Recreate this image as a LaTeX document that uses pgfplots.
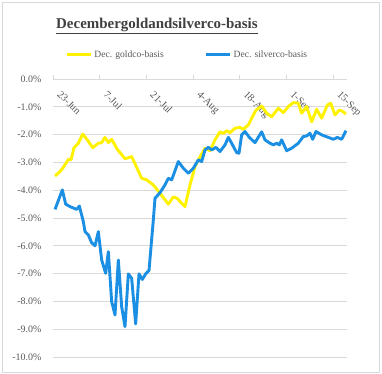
\documentclass[border=0pt]{standalone}
\usepackage{pgfplots}
\pgfplotsset{compat=1.18}
\usepackage{fontspec}
\setmainfont{Liberation Serif}
\definecolor{gold}{HTML}{FFF200}
\definecolor{silv}{HTML}{1A8FE3}
\definecolor{txt}{HTML}{595959}
\definecolor{ttl}{HTML}{404040}
\definecolor{grd}{HTML}{D9D9D9}
\begin{document}
\begin{tikzpicture}
\path[use as bounding box] (0bp,0bp) rectangle (382bp,374bp);
\fill[white] (0bp,0bp) rectangle (382bp,374bp);
\draw[grd, line width=0.75bp] (2bp,2bp) rectangle (379bp,372bp);
\node[font=\fontsize{15}{18}\selectfont\bfseries, text=ttl, inner sep=0pt, anchor=base west] at (56bp,345bp) {\underline{Decembergoldandsilverco-basis}};
\begin{axis}[
  at={(53bp,17bp)}, anchor=south west, scale only axis,
  width=294bp, height=278bp,
  xmin=0, xmax=88.2, ymin=-10, ymax=0,
  axis line style={draw=none},
  ymajorgrids, grid style={grd, line width=0.75bp},
  ytick={-10,-9,...,0},
  yticklabels={-10.0\%,-9.0\%,-8.0\%,-7.0\%,-6.0\%,-5.0\%,-4.0\%,-3.0\%,-2.0\%,-1.0\%,0.0\%},
  ytick style={draw=none},
  yticklabel style={font=\fontsize{10}{12}\selectfont, text=txt, xshift=-4bp},
  xtick={0,14,28,42,56,70,84},
  xticklabels={23-Jun,7-Jul,21-Jul,4-Aug,18-Aug,1-Sep,15-Sep},
  xtick pos=upper, xticklabel pos=upper, tick align=outside,
  major tick length=4bp,
  xtick style={grd, line width=0.75bp},
  xticklabel style={font=\fontsize{10.5}{12}\selectfont, text=txt, xshift=8.5bp, yshift=-15bp, rotate=-45, anchor=north west, inner sep=0pt},
  legend style={at={(0.457,1.088)}, anchor=center, draw=none, fill=none,
    font=\fontsize{9.6}{11}\selectfont, text=txt, legend columns=2,
    /tikz/every even column/.append style={column sep=39bp}},
  legend image code/.code={\draw[#1] (0bp,0bp) -- (24bp,0bp);},
  every axis plot/.append style={line width=2.9bp, line join=round},
]
\addplot[gold] coordinates {
(0.6,-3.49) (2.1,-3.33) (3.1,-3.18) (4.6,-2.89) (5.4,-2.91) (6.3,-2.47) (7.6,-2.31) (8.9,-1.98)
(10.3,-2.19) (11.9,-2.47) (13.6,-2.31) (14.6,-2.29) (15.6,-2.10) (16.6,-2.29) (17.6,-2.17) (19.3,-2.53)
(21.6,-2.87) (23.6,-2.79) (26.6,-3.57) (28.1,-3.63) (30.1,-3.81) (32.1,-4.11) (34.6,-4.50) (36.1,-4.24)
(37.3,-4.30) (38.6,-4.47) (39.6,-4.59) (41.1,-3.81) (42.6,-3.15) (43.6,-2.91) (45.6,-2.49) (47.1,-2.58)
(48.6,-2.19) (50.1,-1.90) (51.1,-1.96) (52.1,-1.86) (53.1,-1.93) (54.6,-1.77) (56.1,-1.74) (57.1,-1.81)
(58.6,-1.65) (59.6,-1.41) (60.9,-1.12) (62.6,-0.97) (64.1,-1.23) (65.6,-1.36) (67.6,-1.05) (69.1,-1.21)
(70.6,-0.99) (72.1,-0.85) (73.6,-0.87) (74.6,-1.23) (76.1,-0.99) (77.6,-1.54) (79.1,-1.09) (80.6,-1.41)
(82.3,-0.94) (83.3,-0.87) (84.6,-1.29) (85.9,-1.12) (86.7,-1.15) (87.9,-1.26)
};
\addlegendentry{Dec. goldco-basis}
\addplot[silv] coordinates {
(0.6,-4.69) (2.8,-3.99) (3.8,-4.50) (5.1,-4.59) (7.1,-4.69) (7.9,-4.57) (9.1,-5.13) (9.6,-5.49)
(10.6,-5.61) (11.6,-5.89) (12.6,-6.00) (13.6,-5.49) (14.6,-6.51) (15.8,-6.99) (16.6,-6.21) (17.6,-8.01)
(18.6,-8.49) (19.6,-6.51) (20.6,-8.19) (21.6,-8.91) (22.6,-7.01) (23.6,-7.17) (24.8,-8.81) (25.8,-7.01)
(26.8,-7.21) (27.8,-7.01) (28.8,-6.89) (30.1,-5.07) (30.6,-4.29) (32.1,-4.09) (33.6,-3.81) (34.6,-3.57)
(35.6,-3.63) (37.6,-2.97) (39.1,-3.21) (40.6,-3.39) (42.1,-3.21) (43.6,-2.91) (44.6,-2.97) (45.6,-2.55)
(46.6,-2.46) (47.6,-2.55) (48.9,-2.46) (50.1,-2.61) (51.6,-2.37) (52.6,-2.10) (53.6,-2.31) (55.1,-2.65)
(55.8,-2.67) (56.6,-2.01) (57.6,-1.89) (58.9,-2.10) (60.6,-2.29) (62.6,-1.90) (63.6,-2.19) (65.1,-2.31)
(66.1,-2.37) (67.1,-2.31) (67.9,-2.37) (68.6,-2.19) (70.1,-2.58) (71.6,-2.49) (73.6,-2.31) (75.1,-2.07)
(76.1,-2.05) (77.1,-1.95) (77.9,-2.17) (78.9,-1.89) (80.6,-2.01) (82.6,-2.10) (84.1,-2.17) (85.3,-2.10)
(86.6,-2.17) (87.9,-1.86)
};
\addlegendentry{Dec. silverco-basis}
\end{axis}
\end{tikzpicture}
\end{document}
